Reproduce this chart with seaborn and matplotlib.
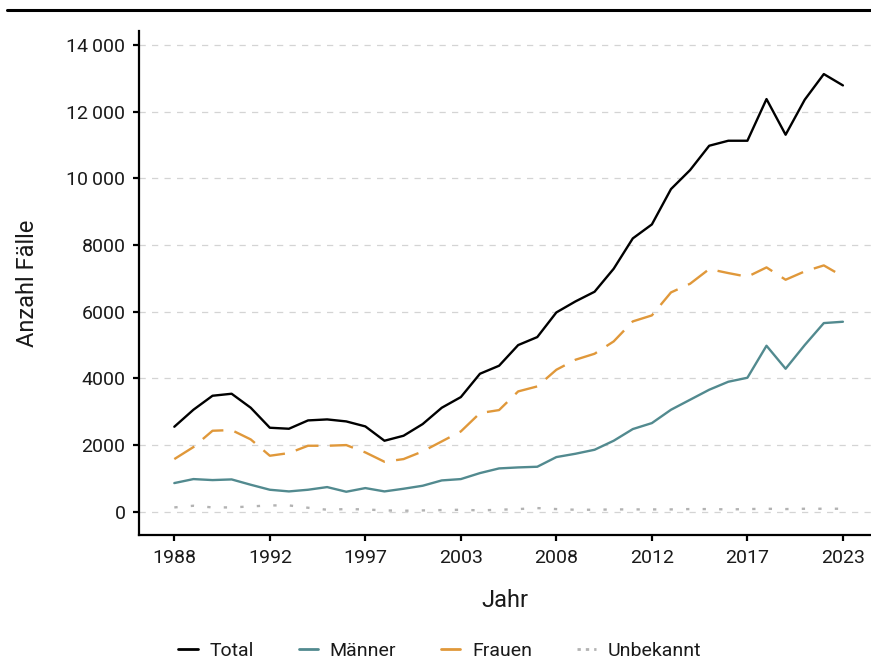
import numpy as np
import pandas as pd
import matplotlib
matplotlib.use("Agg")
import matplotlib.pyplot as plt
from matplotlib.lines import Line2D
import seaborn as sns

years = list(range(1988, 2024))
total = [2550, 3060, 3480, 3540, 3120, 2520, 2490, 2740, 2770, 2710,
         2560, 2130, 2280, 2630, 3120, 3440, 4140, 4380, 5000, 5240,
         5980, 6310, 6600, 7290, 8200, 8620, 9680, 10250, 10980, 11130,
         11130, 12380, 11310, 12360, 13130, 12790]
maenner = [860, 980, 950, 970, 810, 660, 610, 660, 740, 600,
           710, 610, 690, 780, 940, 980, 1160, 1300, 1330, 1350,
           1640, 1740, 1860, 2130, 2480, 2660, 3060, 3360, 3660, 3900,
           4020, 4980, 4290, 5000, 5660, 5700]
frauen = [1580, 1940, 2430, 2450, 2170, 1680, 1760, 1980, 1980, 2000,
          1780, 1500, 1580, 1810, 2110, 2410, 2960, 3050, 3610, 3760,
          4260, 4560, 4740, 5110, 5710, 5890, 6580, 6840, 7280, 7160,
          7050, 7330, 6960, 7210, 7390, 7060]
unbekannt = [130, 180, 130, 130, 160, 190, 190, 120, 60, 80,
             70, 40, 30, 40, 50, 60, 40, 60, 80, 110,
             80, 60, 60, 70, 70, 70, 70, 80, 80, 70,
             80, 90, 80, 90, 90, 90]

series_names = ["Total", "Männer", "Frauen", "Unbekannt"]
xtick_labels = ["1988", "1992", "1997", "2003", "2008", "2012", "2017", "2023"]
ytick_values = [0, 2000, 4000, 6000, 8000, 10000, 12000, 14000]
ytick_labels = ["0", "2000", "4000", "6000", "8000", "10\u2009000", "12\u2009000", "14\u2009000"]

colors = {"Total": "#000000", "Männer": "#528a8f", "Frauen": "#e0983a", "Unbekannt": "#b3b3b3"}
styles = {"Total": "-", "Männer": "-", "Frauen": (0, (10, 4.8)), "Unbekannt": (0, (1.4, 5.6))}

df = pd.DataFrame({
    "Jahr": years * 4,
    "Anzahl": total + maenner + frauen + unbekannt,
    "Kategorie": (["Total"] * len(years) + ["Männer"] * len(years)
                  + ["Frauen"] * len(years) + ["Unbekannt"] * len(years)),
})

sns.set_theme(style="white")
plt.rcParams["font.family"] = ["Roboto", "DejaVu Sans"]
plt.rcParams["text.color"] = "#1a1a1a"
plt.rcParams["axes.labelcolor"] = "#1a1a1a"
plt.rcParams["xtick.color"] = "#1a1a1a"
plt.rcParams["ytick.color"] = "#1a1a1a"

fig = plt.figure(figsize=(8.71, 6.61), dpi=100)
ax = fig.add_axes([0.16, 0.191, 0.84, 0.762])

for name in series_names:
    sub = df[df["Kategorie"] == name]
    sns.lineplot(data=sub, x="Jahr", y="Anzahl", color=colors[name],
                 linestyle=styles[name], linewidth=1.7, ax=ax, legend=False)

ax.set_xlim(1986.17, 2024.47)
ax.set_ylim(-690, 14420)

xt = np.linspace(years[0], years[-1], len(xtick_labels))
ax.set_xticks(xt)
ax.set_xticklabels(xtick_labels, fontsize=14)
ax.set_yticks(ytick_values)
ax.set_yticklabels(ytick_labels, fontsize=14)

ax.grid(axis="y", color="#d4d4d4", linestyle=(0, (5, 5)), linewidth=0.9)
ax.grid(axis="x", visible=False)
ax.set_axisbelow(True)

for s in ["top", "right"]:
    ax.spines[s].set_visible(False)
for s in ["left", "bottom"]:
    ax.spines[s].set_color("black")
    ax.spines[s].set_linewidth(1.6)

ax.tick_params(axis="both", which="both", direction="out", length=4, width=1.6,
               color="black", left=True, bottom=True, pad=6)

ax.set_xlabel("Jahr", fontsize=17, labelpad=16)
ax.set_ylabel("Anzahl Fälle", fontsize=17, labelpad=20)

fig.add_artist(Line2D([0.008, 1.0], [0.985, 0.985], color="black", linewidth=2.2,
                      transform=fig.transFigure))

handles = [Line2D([0], [0], color=colors[n], linewidth=2,
                  linestyle=((0, (1.2, 1.8)) if n == "Unbekannt" else "-"))
           for n in series_names]
fig.legend(handles, series_names, loc="center", bbox_to_anchor=(0.505, 0.015),
           ncol=4, frameon=False, handlelength=1.0, handletextpad=0.6,
           columnspacing=2.3, prop={"size": 14})

fig.savefig("out.png", dpi=100)
